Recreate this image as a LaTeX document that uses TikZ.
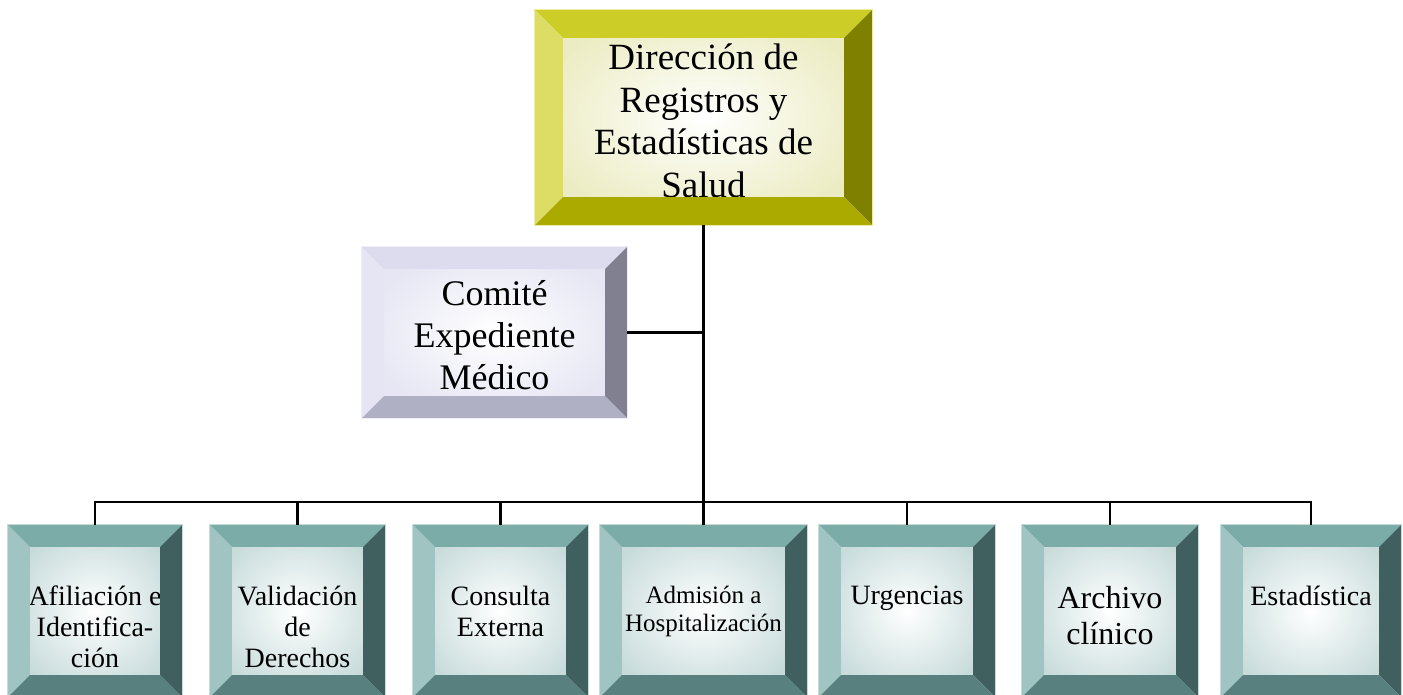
\documentclass[tikz,border=0pt]{standalone}
\usepackage{fontspec}
\setmainfont{Liberation Serif}
\usepackage{tikz}
\usetikzlibrary{positioning}

\definecolor{dirTop}{RGB}{205,205,40}
\definecolor{dirLeft}{RGB}{221,221,102}
\definecolor{dirRight}{RGB}{128,128,0}
\definecolor{dirBot}{RGB}{170,170,0}
\definecolor{dirFace}{RGB}{236,236,196}
\definecolor{comTop}{RGB}{220,220,238}
\definecolor{comLeft}{RGB}{229,229,244}
\definecolor{comRight}{RGB}{128,128,145}
\definecolor{comBot}{RGB}{176,176,196}
\definecolor{comFace}{RGB}{230,230,244}
\definecolor{subTop}{RGB}{124,172,168}
\definecolor{subLeft}{RGB}{160,196,194}
\definecolor{subRight}{RGB}{64,96,95}
\definecolor{subBot}{RGB}{88,128,126}
\definecolor{subFace}{RGB}{200,219,219}

\begin{document}
\begin{tikzpicture}[
  x=1pt, y=1pt,
  face/.style={inner sep=0pt, shading=radial, inner color=white, outer color=#1},
  sub/.style={face=subFace, minimum width=#1, minimum height=172pt},
  boxtext/.style={align=center, inner sep=0pt, font=\fontsize{28}{31}\selectfont},
  link/.style={line width=2.2pt},
  trunk/.style={line width=3pt}
]
  \useasboundingbox (0,0) rectangle (1403,-694);
  \clip (0,0) rectangle (1403,-694);

  % faces
  \node[face=dirFace, minimum width=337pt, minimum height=215pt] (dir) at (703.5,-117.5) {};
  \node[face=comFace, minimum width=265pt, minimum height=171pt] (com) at (494.5,-332.5) {};
  \node[sub=174pt] (afil)  at (95,-611)    {};
  \node[sub=175pt] (valid) at (297.5,-611) {};
  \node[sub=175pt] (cons)  at (500.5,-611) {};
  \node[sub=207pt] (adm)   at (703.5,-611) {};
  \node[sub=176pt] (urg)   at (907,-611)   {};
  \node[sub=176pt] (arch)  at (1110,-611)  {};
  \node[sub=180pt] (est)   at (1311,-611)  {};

  % texts
  \node[boxtext, font=\fontsize{37}{42.5}\selectfont, below=34pt of dir.north] (dirT)
    {Dirección de\\Registros y\\Estadísticas de\\Salud};
  \node[boxtext, font=\fontsize{36}{42}\selectfont, below=33pt of com.north] (comT)
    {Comité\\Expediente\\Médico};
  \node[boxtext, below=61pt of afil.north]  (afilT)  {Afiliación e\\Identifica-\\ción};
  \node[boxtext, below=61pt of valid.north] (validT) {Validación\\de\\Derechos};
  \node[boxtext, below=61pt of cons.north]  (consT)  {Consulta\\Externa};
  \node[boxtext, font=\fontsize{25}{28}\selectfont, below=61pt of adm.north] (admT)
    {Admisión a\\Hospitalización};
  \node[boxtext, below=61pt of urg.north]   (urgT)   {Urgencias};
  \node[boxtext, font=\fontsize{32}{36}\selectfont, below=61pt of arch.north] (archT)
    {Archivo\\clínico};
  \node[boxtext, below=61pt of est.north]   (estT)   {Estadística};

  % bevels
  \foreach \nm/\bw/\sch in {dir/28/dir, com/22/com, afil/22/sub, valid/22/sub,
      cons/22/sub, adm/22/sub, urg/22/sub, arch/22/sub, est/22/sub} {
    \fill[fill=\sch Top] (\nm.north west) -- (\nm.north east)
      -- ([shift={(-\bw,-\bw)}]\nm.north east) -- ([shift={(\bw,-\bw)}]\nm.north west) -- cycle;
    \fill[fill=\sch Left] (\nm.north west) -- ([shift={(\bw,-\bw)}]\nm.north west)
      -- ([shift={(\bw,\bw)}]\nm.south west) -- (\nm.south west) -- cycle;
    \fill[fill=\sch Right] (\nm.north east) -- ([shift={(-\bw,-\bw)}]\nm.north east)
      -- ([shift={(-\bw,\bw)}]\nm.south east) -- (\nm.south east) -- cycle;
    \fill[fill=\sch Bot] (\nm.south west) -- ([shift={(\bw,\bw)}]\nm.south west)
      -- ([shift={(-\bw,\bw)}]\nm.south east) -- (\nm.south east) -- cycle;
    \draw[\sch Left!60!white, line width=0.8pt] (\nm.north west) rectangle (\nm.south east);
  }

  % connectors
  \coordinate (bus) at (703.5,-502);
  \draw[trunk] (dir.south) -- (bus);
  \draw[link] (com.east) -- (com.east -| dir.south);
  \foreach \nm in {afil,valid,cons,adm,urg,arch,est}
    \draw[link] (\nm.north) |- (bus);
\end{tikzpicture}
\end{document}
